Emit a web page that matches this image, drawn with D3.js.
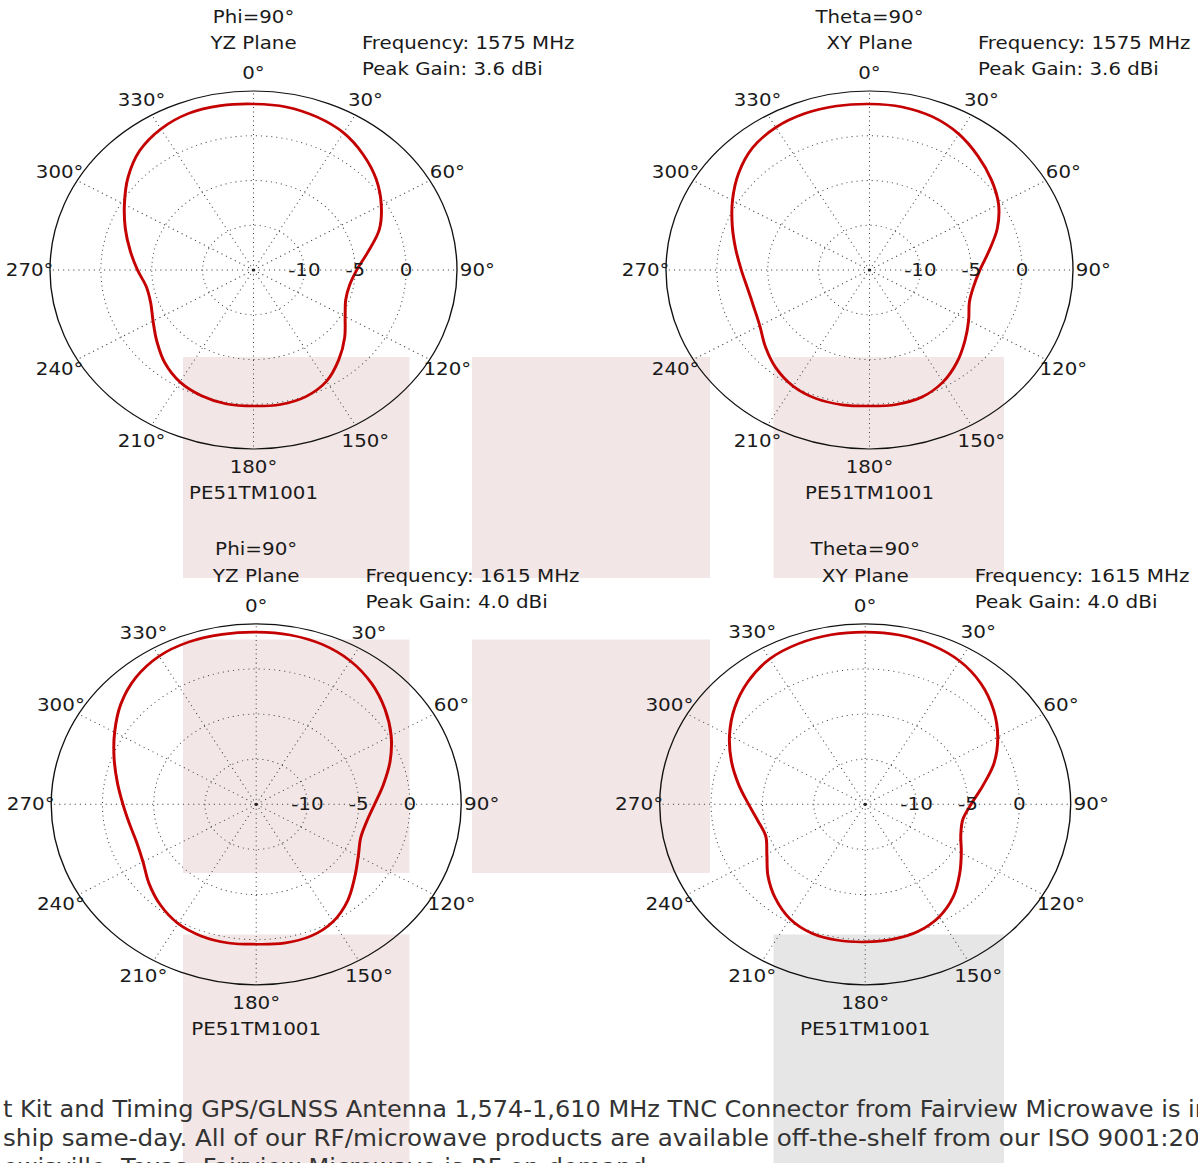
<!DOCTYPE html>
<html>
<head>
<meta charset="utf-8">
<script src="https://cdn.jsdelivr.net/npm/d3@7"></script>
<style>
  html, body { margin: 0; padding: 0; background: #fff; overflow: hidden; }
  svg { display: block; }
</style>
</head>
<body>
<svg id="chart" width="1198" height="1163"></svg>
<script>
// angle of each sample (deg, clockwise from top)
var angles = [0, 10, 20, 30, 40, 50, 60, 70, 80, 90, 100, 110, 120, 130, 140, 150, 160, 170,
  180, 190, 200, 210, 220, 230, 240, 250, 260, 270, 280, 290, 300, 310, 320, 330, 340, 350];

// gain in dBi
var yz1575 = [3.55, 3.5, 3.2, 2.7, 1.8, 0.75, -0.5, -1.85, -3.6, -4.85, -5.4, -5.35, -4.6, -3.3, -1.95, -0.65, 0.05, 0.25,
  0.2, 0.2, -0.05, -0.55, -1.45, -2.6, -3.6, -4.25, -4.3, -3.6, -2.7, -1.6, -0.35, 1.1, 2.4, 3.2, 3.62, 3.65];
var xy1575 = [3.55, 3.5, 3.2, 2.55, 1.6, 0.65, -0.35, -1.65, -3.1, -4.15, -4.6, -4.55, -3.75, -2.75, -1.6, -0.55, 0.1, 0.25,
  0.2, 0.3, 0.3, 0.0, -0.7, -1.65, -2.55, -2.9, -2.85, -2.4, -1.65, -0.65, 0.55, 1.8, 2.85, 3.4, 3.6, 3.6];
var yz1615 = [4.08, 4.05, 3.85, 3.35, 2.5, 1.4, 0.2, -1.1, -2.4, -3.45, -4.05, -4.15, -3.5, -2.45, -1.1, 0.0, 0.55, 0.62,
  0.5, 0.6, 0.55, 0.25, -0.45, -1.35, -2.25, -2.6, -2.45, -2.0, -1.25, -0.25, 0.95, 2.25, 3.3, 3.95, 4.15, 4.12];
var xy1615 = [4.08, 4.05, 3.8, 3.35, 2.5, 1.3, -0.1, -1.65, -3.4, -4.7, -5.35, -5.1, -4.2, -3.0, -1.65, -0.6, 0.0, 0.2,
  0.25, 0.3, 0.2, -0.35, -1.4, -2.65, -3.95, -4.7, -4.4, -3.65, -2.5, -1.15, 0.25, 1.6, 2.75, 3.6, 3.95, 4.08];

var angleTicks = [0, 30, 60, 90, 120, 150, 180, 210, 240, 270, 300, 330];
var radialTicks = [-10, -5, 0];
var radialDomain = [-15, 5];

var titles = ["Phi=90°", "Theta=90°", "Phi=90°", "Theta=90°"];
var planes = ["YZ Plane", "XY Plane", "YZ Plane", "XY Plane"];
var freqs = ["1575", "1575", "1615", "1615"];
var gains = ["3.6", "3.6", "4.0", "4.0"];
var partName = "PE51TM1001";

var footLines = [
  "t Kit and Timing GPS/GLNSS Antenna 1,574-1,610 MHz TNC Connector from Fairview Microwave is in",
  "ship same-day. All of our RF/microwave products are available off-the-shelf from our ISO 9001:2008",
  "ewisville, Texas. Fairview Microwave is RF on-demand."
];
// visible prefix of each line and where it ends in the picture
var footFit = [
  ["t Kit and Timing GPS/GLNSS Antenna 1,574-1,610 MHz TNC Connector from Fairview Microwave is", 1181],
  ["ship same-day. All of our RF/microwave products are available off-the-shelf from our ISO 9001:2", 1185],
  null
];

var svg = d3.select("#chart");

// page blocks sitting behind the pattern images
var blocks = [
  { x: 183, y: 357, w: 226.5, h: 221, c: "#f2e6e6" },
  { x: 472, y: 357, w: 238, h: 221, c: "#f2e6e6" },
  { x: 773.5, y: 357, w: 230.5, h: 221, c: "#f2e6e6" },
  { x: 183, y: 639.5, w: 226.5, h: 233.5, c: "#f2e6e6" },
  { x: 472, y: 639.5, w: 238, h: 233.5, c: "#f2e6e6" },
  { x: 183, y: 934.5, w: 226.5, h: 240, c: "#f2e6e6" },
  { x: 773.5, y: 934.5, w: 230.5, h: 240, c: "#e6e6e6" }
];
svg.selectAll("rect.block").data(blocks).enter().append("rect")
  .attr("class", "block")
  .attr("x", function (d) { return d.x; })
  .attr("y", function (d) { return d.y; })
  .attr("width", function (d) { return d.w; })
  .attr("height", function (d) { return d.h; })
  .attr("fill", function (d) { return d.c; });

var R0 = 179;
var rScale = d3.scaleLinear().domain(radialDomain).range([0, R0]);
var aScale = d3.scaleLinear().domain([0, 360]).range([0, 2 * Math.PI]);
var font = "'DejaVu Sans', Verdana, sans-serif";

var plots = [
  { cx: 253.5, cy: 270, rx: 203.5, ry: 179, values: yz1575 },
  { cx: 869.5, cy: 270, rx: 203.5, ry: 179, values: xy1575 },
  { cx: 256.2, cy: 804.3, rx: 205, ry: 180.5, values: yz1615 },
  { cx: 865.2, cy: 804.3, rx: 205.5, ry: 180.5, values: xy1615 }
];

function drawPlot(p, i) {
  var g = svg.append("g")
    .attr("transform", "translate(" + p.cx + "," + p.cy + ") scale(" + (p.rx / R0) + "," + (p.ry / R0) + ")");

  // dotted rings
  g.selectAll("circle.ring").data(radialTicks).enter().append("circle")
    .attr("class", "ring")
    .attr("r", function (d) { return rScale(d); })
    .attr("fill", "none")
    .attr("stroke", "#444")
    .attr("stroke-width", 0.9)
    .attr("stroke-dasharray", "1,3.5");

  // dotted spokes
  g.selectAll("line.spoke").data(angleTicks).enter().append("line")
    .attr("class", "spoke")
    .attr("x1", 0).attr("y1", 0)
    .attr("x2", function (d) { return Math.sin(aScale(d)) * rScale(radialDomain[1]); })
    .attr("y2", function (d) { return -Math.cos(aScale(d)) * rScale(radialDomain[1]); })
    .attr("stroke", "#444")
    .attr("stroke-width", 0.9)
    .attr("stroke-dasharray", "1,3.5");

  g.append("circle").attr("r", 1.6).attr("fill", "#222");

  // outer frame
  g.append("circle")
    .attr("r", rScale(radialDomain[1]))
    .attr("fill", "none")
    .attr("stroke", "#111")
    .attr("stroke-width", 1.2);

  // pattern
  var pts = angles.map(function (a, k) { return { a: a, v: p.values[k] }; });
  var line = d3.lineRadial()
    .angle(function (d) { return aScale(d.a); })
    .radius(function (d) { return rScale(d.v); })
    .curve(d3.curveCatmullRomClosed.alpha(0.5));
  g.append("path")
    .attr("d", line(pts))
    .attr("fill", "none")
    .attr("stroke", "#c40000")
    .attr("stroke-width", 2.6);

  var txt = function (x, y, s, anchor) {
    return g.append("text")
      .attr("x", x).attr("y", y).attr("dy", "0.35em")
      .attr("text-anchor", anchor || "middle")
      .attr("font-family", font)
      .attr("font-size", 17.4)
      .attr("fill", "#1a1a1a")
      .text(s);
  };

  // angle labels
  angleTicks.forEach(function (d) {
    var rr = rScale(radialDomain[1]) * 1.1;
    txt(Math.sin(aScale(d)) * rr, -Math.cos(aScale(d)) * rr, d + "°");
  });
  // radial labels along 90 deg
  radialTicks.forEach(function (d) {
    txt(rScale(d), 0, d);
  });

  txt(0, -253, titles[i]);
  txt(0, -227, planes[i]);
  txt(95.4, -227, "Frequency: " + freqs[i] + " MHz", "start");
  txt(95.4, -201, "Peak Gain: " + gains[i] + " dBi", "start");
  txt(0, 223, partName);
}

plots.forEach(drawPlot);

// paragraph text at the bottom, squeezed to the measured line widths
var probe = svg.append("text").attr("font-family", font).attr("font-size", 23);
var scales = footFit.map(function (f) {
  if (!f) return null;
  probe.text(f[0]);
  return (f[1] - 3) / probe.node().getComputedTextLength();
});
probe.remove();
scales[2] = scales[0];

svg.selectAll("text.foot").data(footLines).enter().append("text")
  .attr("class", "foot")
  .attr("transform", function (d, i) { return "translate(3," + (1116.7 + i * 28.9) + ") scale(" + scales[i] + ",1)"; })
  .attr("font-family", font)
  .attr("font-size", 23)
  .attr("fill", "#333")
  .text(function (d) { return d; });
</script>
</body>
</html>
